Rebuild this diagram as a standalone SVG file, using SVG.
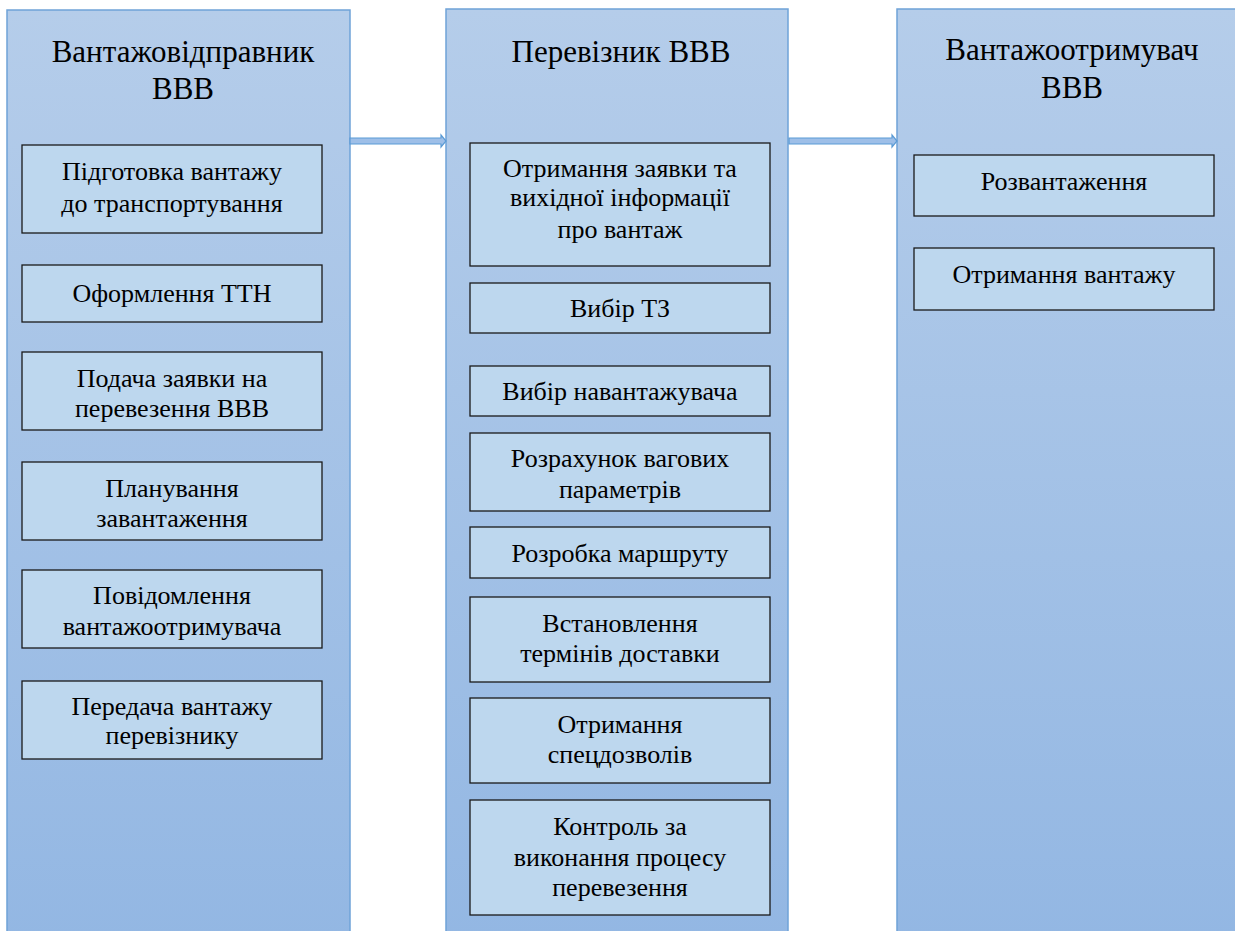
<svg xmlns="http://www.w3.org/2000/svg" width="1235" height="931" viewBox="0 0 1235 931" font-family="'Liberation Serif', 'Times New Roman', serif">
  <defs>
    <linearGradient id="colGrad" x1="0" y1="0" x2="0" y2="1">
      <stop offset="0" stop-color="#b5cdea"/>
      <stop offset="1" stop-color="#93b7e3"/>
    </linearGradient>
  </defs>
  <style>
    .col { fill: url(#colGrad); stroke: #6fa3d8; stroke-width: 1.5; }
    .box { fill: #bdd7ee; stroke: #1a1a1a; stroke-width: 1.3; }
    text { font-family: 'Liberation Serif', 'Times New Roman', serif; fill: #000; text-anchor: middle; }
    .title { font-size: 31px; }
    .lbl { font-size: 26px; }
    .arrow { fill: #9ebfe8; stroke: #5b9bd5; stroke-width: 1.2; }
  </style>

  <g id="col-shipper">
    <rect class="col" x="7" y="10" width="343" height="930"/>
    <text class="title" x="183" y="62">Вантажовідправник</text>
    <text class="title" x="183" y="99">ВВВ</text>
  </g>
  <g id="col-carrier">
    <rect class="col" x="446" y="9" width="342" height="930"/>
    <text class="title" x="621" y="62">Перевізник ВВВ</text>
  </g>
  <g id="col-receiver">
    <rect class="col" x="897" y="9" width="343" height="930"/>
    <text class="title" x="1072" y="60">Вантажоотримувач</text>
    <text class="title" x="1072" y="98">ВВВ</text>
  </g>

  <g id="connectors">
    <path class="arrow" d="M350,138 L441,138 L441,135 L446,141 L441,147 L441,144 L350,144 Z"/>
    <path class="arrow" d="M789,138 L892,138 L892,135 L897,141 L892,147 L892,144 L789,144 Z"/>
  </g>

  <g id="s1">
    <rect class="box" x="22" y="145" width="300" height="88"/>
    <text class="lbl" x="172" y="180">Підготовка вантажу</text>
    <text class="lbl" x="172" y="212">до транспортування</text>
  </g>
  <g id="s2">
    <rect class="box" x="22" y="265" width="300" height="57"/>
    <text class="lbl" x="172" y="302">Оформлення ТТН</text>
  </g>
  <g id="s3">
    <rect class="box" x="22" y="352" width="300" height="78"/>
    <text class="lbl" x="172" y="387">Подача заявки на</text>
    <text class="lbl" x="172" y="417">перевезення ВВВ</text>
  </g>
  <g id="s4">
    <rect class="box" x="22" y="462" width="300" height="78"/>
    <text class="lbl" x="172" y="497">Планування</text>
    <text class="lbl" x="172" y="527">завантаження</text>
  </g>
  <g id="s5">
    <rect class="box" x="22" y="570" width="300" height="78"/>
    <text class="lbl" x="172" y="604">Повідомлення</text>
    <text class="lbl" x="172" y="635">вантажоотримувача</text>
  </g>
  <g id="s6">
    <rect class="box" x="22" y="681" width="300" height="78"/>
    <text class="lbl" x="172" y="715">Передача вантажу</text>
    <text class="lbl" x="172" y="744">перевізнику</text>
  </g>

  <g id="c1">
    <rect class="box" x="470" y="143" width="300" height="123"/>
    <text class="lbl" x="620" y="177">Отримання заявки та</text>
    <text class="lbl" x="620" y="206">вихідної інформації</text>
    <text class="lbl" x="620" y="238">про вантаж</text>
  </g>
  <g id="c2">
    <rect class="box" x="470" y="283" width="300" height="50"/>
    <text class="lbl" x="620" y="317">Вибір ТЗ</text>
  </g>
  <g id="c3">
    <rect class="box" x="470" y="366" width="300" height="50"/>
    <text class="lbl" x="620" y="400">Вибір навантажувача</text>
  </g>
  <g id="c4">
    <rect class="box" x="470" y="433" width="300" height="78"/>
    <text class="lbl" x="620" y="467">Розрахунок вагових</text>
    <text class="lbl" x="620" y="498">параметрів</text>
  </g>
  <g id="c5">
    <rect class="box" x="470" y="527" width="300" height="51"/>
    <text class="lbl" x="620" y="562">Розробка маршруту</text>
  </g>
  <g id="c6">
    <rect class="box" x="470" y="597" width="300" height="85"/>
    <text class="lbl" x="620" y="632">Встановлення</text>
    <text class="lbl" x="620" y="662">термінів доставки</text>
  </g>
  <g id="c7">
    <rect class="box" x="470" y="698" width="300" height="85"/>
    <text class="lbl" x="620" y="733">Отримання</text>
    <text class="lbl" x="620" y="763">спецдозволів</text>
  </g>
  <g id="c8">
    <rect class="box" x="470" y="800" width="300" height="115"/>
    <text class="lbl" x="620" y="835">Контроль за</text>
    <text class="lbl" x="620" y="866">виконання процесу</text>
    <text class="lbl" x="620" y="896">перевезення</text>
  </g>

  <g id="r1">
    <rect class="box" x="914" y="155" width="300" height="61"/>
    <text class="lbl" x="1064" y="190">Розвантаження</text>
  </g>
  <g id="r2">
    <rect class="box" x="914" y="248" width="300" height="62"/>
    <text class="lbl" x="1064" y="283">Отримання вантажу</text>
  </g>
</svg>
